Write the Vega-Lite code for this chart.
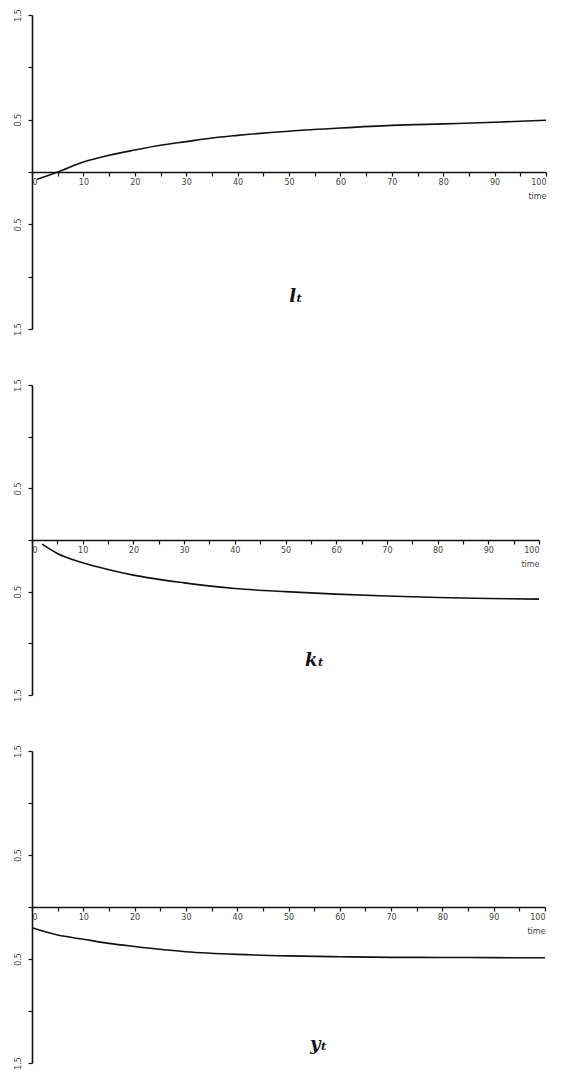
{
  "$schema": "https://vega.github.io/schema/vega-lite/v6.json",
  "background": "white",
  "padding": {"left": 14, "top": 8, "right": 5, "bottom": 5},
  "spacing": 42,
  "config": {
    "view": {"stroke": null},
    "axis": {
      "domainColor": "#111",
      "domainWidth": 1.6,
      "tickColor": "#111",
      "tickWidth": 1.2,
      "tickSize": 4,
      "grid": false,
      "labelFont": "DejaVu Sans",
      "labelFontSize": 8,
      "labelColor": "#444",
      "titleFont": "DejaVu Sans",
      "titleFontSize": 8,
      "titleFontWeight": "normal",
      "titleColor": "#444"
    },
    "title": {"font": "DejaVu Serif", "fontSize": 18, "fontStyle": "italic", "color": "#111", "anchor": "middle"}
  },
  "datasets": {
    "l": [
      {"t": 1, "v": -0.07}, {"t": 3, "v": -0.035}, {"t": 5, "v": 0.0}, {"t": 10, "v": 0.095},
      {"t": 15, "v": 0.16}, {"t": 20, "v": 0.21}, {"t": 25, "v": 0.255}, {"t": 30, "v": 0.29},
      {"t": 35, "v": 0.325}, {"t": 40, "v": 0.35}, {"t": 50, "v": 0.39}, {"t": 60, "v": 0.42},
      {"t": 70, "v": 0.445}, {"t": 80, "v": 0.46}, {"t": 90, "v": 0.475}, {"t": 100, "v": 0.495}
    ],
    "k": [
      {"t": 2, "v": -0.04}, {"t": 5, "v": -0.13}, {"t": 10, "v": -0.22}, {"t": 15, "v": -0.285},
      {"t": 20, "v": -0.34}, {"t": 30, "v": -0.415}, {"t": 40, "v": -0.47}, {"t": 50, "v": -0.5},
      {"t": 60, "v": -0.524}, {"t": 70, "v": -0.542}, {"t": 80, "v": -0.557}, {"t": 90, "v": -0.566},
      {"t": 100, "v": -0.572}
    ],
    "y": [
      {"t": 0, "v": -0.2}, {"t": 5, "v": -0.27}, {"t": 10, "v": -0.31}, {"t": 15, "v": -0.35},
      {"t": 20, "v": -0.38}, {"t": 30, "v": -0.43}, {"t": 40, "v": -0.456}, {"t": 50, "v": -0.47},
      {"t": 60, "v": -0.478}, {"t": 70, "v": -0.484}, {"t": 80, "v": -0.485}, {"t": 90, "v": -0.487},
      {"t": 100, "v": -0.488}
    ]
  },
  "vconcat": [
    {
      "width": 514,
      "height": 314,
      "data": {"name": "l"},
      "title": {"text": "lₜ", "orient": "bottom", "offset": -47, "dx": 7},
      "mark": {"type": "line", "color": "#111", "strokeWidth": 1.6, "interpolate": "monotone"},
      "encoding": {
        "x": {"field": "t", "type": "quantitative", "scale": {"domain": [0, 100], "nice": false},
          "axis": {"orient": "bottom", "offset": -157, "values": [0,5,10,15,20,25,30,35,40,45,50,55,60,65,70,75,80,85,90,95,100],
            "labelExpr": "datum.value % 10 == 0 ? datum.label : ''", "labelPadding": 2, "title": "time", "titleAnchor": "end", "titlePadding": 6}},
        "y": {"field": "v", "type": "quantitative", "scale": {"domain": [-1.5, 1.5], "nice": false, "zero": false},
          "axis": {"values": [-1.5,-1,-0.5,0,0.5,1,1.5], "labelExpr": "datum.value == 0 || abs(datum.value) == 1 ? '' : format(abs(datum.value), '.1f')",
            "labelAngle": -90, "labelPadding": 6, "title": null}}
      }
    },
    {
      "width": 507,
      "height": 310,
      "data": {"name": "k"},
      "title": {"text": "kₜ", "orient": "bottom", "offset": -49, "dx": 29, "fontWeight": "bold"},
      "mark": {"type": "line", "color": "#111", "strokeWidth": 1.6, "interpolate": "monotone"},
      "encoding": {
        "x": {"field": "t", "type": "quantitative", "scale": {"domain": [0, 100], "nice": false},
          "axis": {"orient": "bottom", "offset": -155, "values": [0,5,10,15,20,25,30,35,40,45,50,55,60,65,70,75,80,85,90,95,100],
            "labelExpr": "datum.value % 10 == 0 ? datum.label : ''", "labelPadding": 2, "title": "time", "titleAnchor": "end", "titlePadding": 6}},
        "y": {"field": "v", "type": "quantitative", "scale": {"domain": [-1.5, 1.5], "nice": false, "zero": false},
          "axis": {"values": [-1.5,-1,-0.5,0,0.5,1,1.5], "labelExpr": "datum.value == 0 || abs(datum.value) == 1 ? '' : format(abs(datum.value), '.1f')",
            "labelAngle": -90, "labelPadding": 6, "title": null}}
      }
    },
    {
      "width": 513,
      "height": 312,
      "data": {"name": "y"},
      "title": {"text": "yₜ", "orient": "bottom", "offset": -33, "dx": 30, "fontWeight": "bold"},
      "mark": {"type": "line", "color": "#111", "strokeWidth": 1.6, "interpolate": "monotone"},
      "encoding": {
        "x": {"field": "t", "type": "quantitative", "scale": {"domain": [0, 100], "nice": false},
          "axis": {"orient": "bottom", "offset": -156, "values": [0,5,10,15,20,25,30,35,40,45,50,55,60,65,70,75,80,85,90,95,100],
            "labelExpr": "datum.value % 10 == 0 ? datum.label : ''", "labelPadding": 2, "title": "time", "titleAnchor": "end", "titlePadding": 6}},
        "y": {"field": "v", "type": "quantitative", "scale": {"domain": [-1.5, 1.5], "nice": false, "zero": false},
          "axis": {"values": [-1.5,-1,-0.5,0,0.5,1,1.5], "labelExpr": "datum.value == 0 || abs(datum.value) == 1 ? '' : format(abs(datum.value), '.1f')",
            "labelAngle": -90, "labelPadding": 6, "title": null}}
      }
    }
  ]
}
